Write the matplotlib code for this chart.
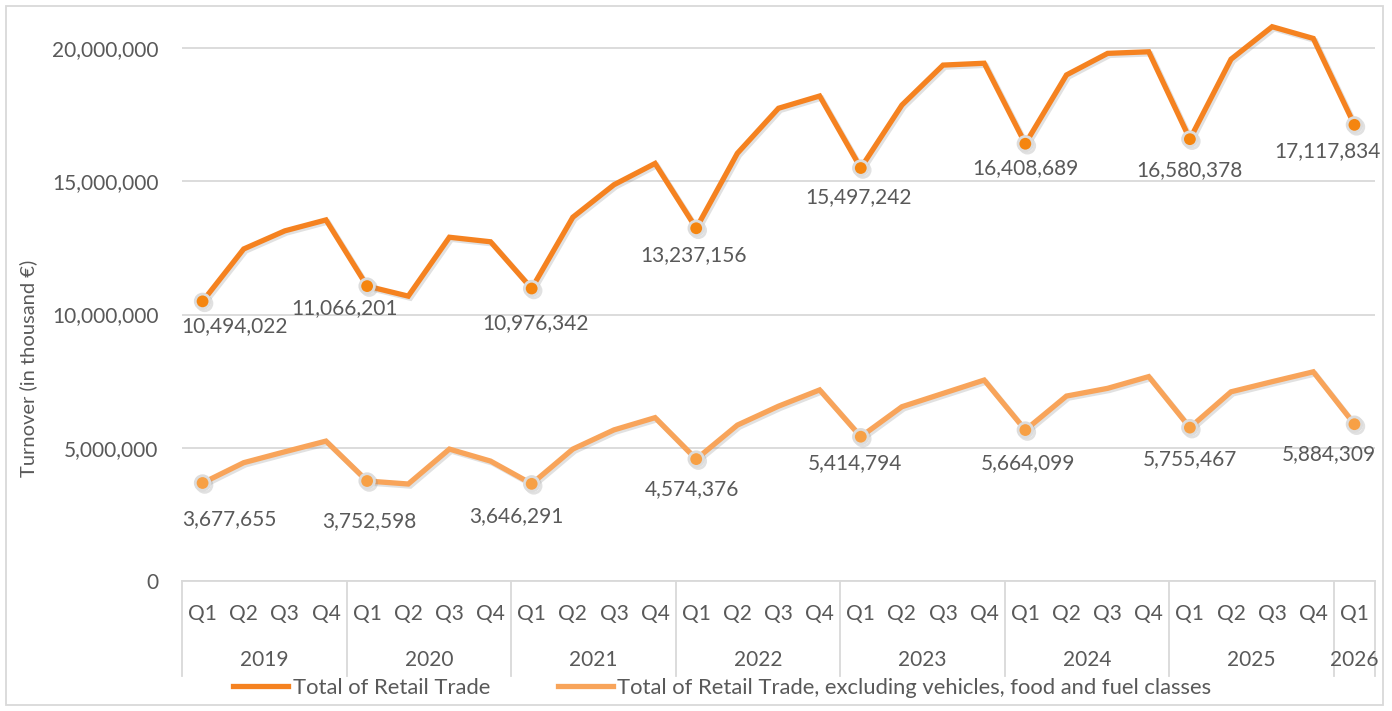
import matplotlib
matplotlib.use("Agg")
import matplotlib.pyplot as plt
import matplotlib.patheffects as pe
from matplotlib.patches import Rectangle
import matplotlib.transforms as mtransforms

# data
years = ["2019", "2020", "2021", "2022", "2023", "2024", "2025", "2026"]
quarters = ["Q1", "Q2", "Q3", "Q4"]
n_points = 29  # 2019 Q1 .. 2026 Q1

total_retail = [10494022, 12460000, 13140000, 13550000,
                11066201, 10690000, 12900000, 12730000,
                10976342, 13650000, 14870000, 15670000,
                13237156, 16050000, 17740000, 18200000,
                15497242, 17860000, 19360000, 19430000,
                16408689, 18990000, 19800000, 19860000,
                16580378, 19580000, 20800000, 20360000,
                17117834]
total_excl = [3677655, 4440000, 4850000, 5250000,
              3752598, 3640000, 4950000, 4500000,
              3646291, 4950000, 5670000, 6130000,
              4574376, 5850000, 6560000, 7170000,
              5414794, 6540000, 7040000, 7540000,
              5664099, 6940000, 7230000, 7670000,
              5755467, 7100000, 7480000, 7850000,
              5884309]

series_names = ["Total of Retail Trade",
                "Total of Retail Trade, excluding vehicles, food and fuel classes"]

# label offsets (pixels) for the Q1 data labels
off1 = [(32, -25), (-23, -22), (4, -35), (-3, -27), (-2, -29), (0, -24), (0, -31), (-27, -26)]
off2 = [(27, -36), (2, -40), (-15, -32), (-4, -30), (-6, -26), (3, -33), (0, -31), (-26, -30)]

plt.rcParams['font.family'] = ['Lato', 'DejaVu Sans']
txt = '#595959'
grid = '#d9d9d9'

fig = plt.figure(figsize=(13.92, 7.11), dpi=100)
ax = fig.add_axes([182/1392, 1-581/711, (1375-182)/1392, (581-15)/711])

x = list(range(n_points))
q1 = list(range(0, n_points, 4))
shadow = [pe.SimpleLineShadow(offset=(1.5, -1.5), alpha=0.25, shadow_color='#888888'), pe.Normal()]

l1, = ax.plot(x, total_retail, color='#F58220', lw=3.8, solid_joinstyle='miter',
              marker='o', markevery=q1, markersize=10.5, markerfacecolor='#F5850F',
              markeredgecolor='#dcdcdc', markeredgewidth=2, path_effects=shadow, zorder=3)
l2, = ax.plot(x, total_excl, color='#F8A45A', lw=3.8, solid_joinstyle='miter',
              marker='o', markevery=q1, markersize=10.5, markerfacecolor='#F7A045',
              markeredgecolor='#dcdcdc', markeredgewidth=2, path_effects=shadow, zorder=3)

for k, i in enumerate(q1):
    ax.annotate(f"{total_retail[i]:,}", (i, total_retail[i]), xytext=off1[k],
                textcoords='offset pixels', ha='center', va='center',
                fontsize=15, color=txt, annotation_clip=False, zorder=4)
    ax.annotate(f"{total_excl[i]:,}", (i, total_excl[i]), xytext=off2[k],
                textcoords='offset pixels', ha='center', va='center',
                fontsize=15, color=txt, annotation_clip=False, zorder=4)

ax.set_xlim(-0.5, n_points - 0.5)
ax.set_ylim(0, 21.24e6)
ax.set_yticks([0, 5e6, 10e6, 15e6, 20e6])
ax.set_yticklabels([f"{int(v):,}" for v in [0, 5e6, 10e6, 15e6, 20e6]])
ax.tick_params(axis='y', length=0, pad=17, labelsize=15, labelcolor=txt)
ax.set_xticks([])
ax.grid(axis='y', color=grid, lw=1.3)
ax.set_axisbelow(True)
for s in ['top', 'right', 'left']:
    ax.spines[s].set_visible(False)
ax.spines['bottom'].set_color(grid)
ax.spines['bottom'].set_linewidth(1.3)

# category axis (quarters + years)
trans = mtransforms.blended_transform_factory(ax.transData, ax.transAxes)
for i in range(n_points):
    ax.text(i, -0.0583, quarters[i % 4], transform=trans, ha='center', va='center',
            fontsize=15, color=txt)
for j, yr in enumerate(years):
    start = 4 * j
    end = min(4 * j + 3, n_points - 1)
    ax.text((start + end) / 2, -0.1396, yr, transform=trans, ha='center', va='center',
            fontsize=15, color=txt)
bounds = [4 * j - 0.5 for j in range(len(years))] + [n_points - 0.5]
for b in bounds:
    ax.plot([b, b], [0, -0.168], transform=trans, color=grid, lw=1.3, clip_on=False)

fig.text(28/1392, 1-368/711, "Turnover (in thousand €)", rotation=90, ha='center',
         va='center', fontsize=14.5, color=txt)

leg = fig.legend([l1, l2], series_names, loc='center', bbox_to_anchor=(0.519, 1-688/711),
                 ncol=2, frameon=False, fontsize=15.8, handlelength=2.5, handletextpad=0.2,
                 columnspacing=3.1, labelcolor=txt)
for h in leg.legend_handles:
    h.set_marker('')
    h.set_path_effects([])

fig.patches.append(Rectangle((6/1392, 6/711), 1377/1392, 699/711, transform=fig.transFigure,
                             fill=False, edgecolor=grid, lw=1.3))

fig.savefig("out.png", dpi=100)
